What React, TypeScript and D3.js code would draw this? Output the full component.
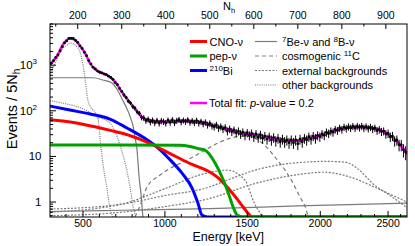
import * as d3 from "d3";

// axis ticks
const nhMajor = [200, 300, 400, 500, 600, 700, 800, 900];
const energyMajor = [500, 1000, 1500, 2000, 2500];
const yDecades = [1, 10, 100, 1000];
const yDecadeSup = ["", "", "2", "3"];

// energy <-> Nh calibration
const calEnergy = [300, 500, 1000, 1500, 2000, 2500, 2700];
const calNh = [135, 212, 398, 585, 751, 905, 962];

// data, events per 5 Nh bin
const binNh = d3.range(140, 950, 5);
const counts = [
  1100, 1250, 1480, 1690, 2080, 2550, 3100, 3400, 3850, 3880,
  3850, 3480, 3150, 2650, 2330, 1920, 1620, 1260, 1070, 900,
  825, 745, 700, 680, 640, 620, 575, 540, 490, 420,
  375, 310, 265, 222, 196, 162, 148, 124, 114, 95,
  88, 72, 70, 61, 65, 57, 62, 55, 61, 54,
  60, 58, 54, 62, 56, 63, 55, 61, 64, 57,
  62, 58, 63, 56, 60, 55, 61, 54, 58, 52,
  56, 49, 53, 47, 45, 49, 42, 45, 40, 43,
  36, 40, 35, 38, 33, 36, 31, 34, 29, 33,
  29, 32, 27, 31, 26, 30, 25, 28, 24, 27,
  23, 26, 22, 25, 21, 24, 21, 23, 20, 23,
  20, 23, 19, 24, 21, 25, 23, 27, 24, 28,
  25, 29, 27, 31, 29, 34, 32, 36, 34, 39,
  37, 42, 39, 44, 41, 45, 42, 46, 42, 46,
  43, 46, 42, 45, 41, 44, 40, 42, 37, 39,
  35, 36, 31, 32, 27, 28, 22, 23, 18, 18,
  14, 12.5,
];

// total fit
const fitNh = [137, 152, 167, 182, 194, 205, 217, 228, 239, 251, 266, 277, 289, 300, 311, 323, 334, 345, 357, 372, 387, 410, 440, 470, 490, 510, 528, 564, 603, 642, 678, 701, 717, 739, 769, 807, 846, 869, 892, 914, 937, 948];
const fitVal = [1050, 1535, 2870, 3890, 3570, 2680, 1820, 1100, 826, 699, 610, 516, 381, 262, 188, 134, 99, 74, 63, 59, 57, 58, 60, 58, 53, 47, 42, 34, 29.5, 25, 22, 22, 24, 26.6, 32.5, 42, 44, 42, 36, 26.6, 16, 11];

// components
const cnoNh = [137, 194, 251, 307, 341, 371, 410, 455, 501, 519, 542, 564, 585, 596, 610, 948];
const cnoVal = [64, 55, 42, 31, 24, 17.8, 11.5, 7, 4.5, 3.4, 2.0, 1.1, 0.6, 0.4, 0.1, 0.1];
const pepNh = [137, 300, 432, 455, 478, 489, 512, 528, 542, 553, 562, 575, 948];
const pepVal = [17.8, 17.8, 17.5, 16.5, 14.5, 13.8, 7.2, 3.5, 1.58, 0.78, 0.52, 0.1, 0.1];
const biNh = [137, 182, 228, 273, 312, 348, 380, 410, 437, 460, 473, 482, 495, 948];
const biVal = [127, 104, 85, 66, 42, 26.6, 16, 8.4, 4.3, 2.0, 0.95, 0.52, 0.1, 0.1];
const be7Nh = [137, 235, 257, 278, 289, 301, 312, 319, 326, 330, 335, 339, 344, 348];
const be7Val = [530, 530, 473, 408, 300, 180, 110, 75, 45, 27, 13, 3.9, 1.4, 0.3];
const b8Nh = [137, 300, 500, 700, 948];
const b8Val = [0.62, 0.66, 0.72, 0.82, 0.95];
const c11Nh = [330, 341, 357, 387, 416, 448, 478, 501, 535, 580, 619, 648, 671, 689, 705, 717, 723, 730];
const c11Val = [0.3, 0.8, 2.1, 3.9, 5.9, 8.3, 11.9, 16, 23, 28, 19.7, 9.7, 5.0, 2.6, 1.29, 0.78, 0.52, 0.3];
const extBiNh = [137, 300, 400, 489, 550, 603, 660, 717, 760, 807, 840, 869, 914, 948];
const extBiVal = [0.7, 0.9, 1.4, 2.0, 3.3, 5.0, 6.6, 7.5, 7.8, 7.5, 5, 2.6, 1.3, 0.75];
const extTlNh = [137, 300, 400, 500, 600, 700, 760, 820, 880, 948];
const extTlVal = [0.5, 0.6, 0.8, 1.2, 2.5, 4, 4.5, 3.5, 2, 1.0];
const extKNh = [137, 300, 400, 480, 540, 580, 600, 620];
const extKVal = [0.6, 0.9, 2, 4, 5, 3, 1, 0.3];
const poNh = [137, 152, 167, 176, 182, 194, 205, 212, 217, 223, 228, 239, 246, 251, 257, 266, 273, 280];
const poVal = [600, 1300, 2400, 2760, 3070, 2760, 1960, 1000, 470, 173, 127, 94, 70, 23, 7.2, 2.1, 0.78, 0.2];
const krNh = [137, 162, 212, 244, 273, 285, 296, 308, 319, 326, 332];
const krVal = [166, 150, 110, 75, 54, 35, 17.8, 7, 2.1, 0.78, 0.3];

const FONT = "'Liberation Sans', Arial, Helvetica, sans-serif";
const GRAY = "#7a7a7a";

export default function App() {
  const width = 415;
  const height = 246;
  const left = 50, right = 407, top = 24, bottom = 217;

  const x = d3.scaleLinear([137, 948], [left, right]);
  const y = d3.scaleLog([0.47, 8000], [bottom, top]).clamp(true);
  const e2nh = d3.scaleLinear(calEnergy, calNh);

  const pairs = (a: number[], b: number[]) => a.map((v, i) => [v, b[i]] as [number, number]);
  const line = d3.line<[number, number]>()
    .x(d => x(d[0]))
    .y(d => y(d[1]))
    .curve(d3.curveMonotoneX);

  const nhMinor = d3.range(150, 948, 50).filter(v => !nhMajor.includes(v));
  const eMinor = d3.range(400, 2700, 100)
    .filter(e => !energyMajor.includes(e))
    .filter(e => e2nh(e) > 137 && e2nh(e) < 948);
  const yMinor: number[] = [];
  [0.1, 1, 10, 100, 1000].forEach(d => {
    for (let k = 2; k <= 9; k++) {
      const v = d * k;
      if (v >= 0.47 && v <= 8000) yMinor.push(v);
    }
  });

  const grayCurves = [
    { nh: b8Nh, v: b8Val, dash: "" },
    { nh: be7Nh, v: be7Val, dash: "" },
    { nh: c11Nh, v: c11Val, dash: "4,3" },
    { nh: extBiNh, v: extBiVal, dash: "2,1.5" },
    { nh: extTlNh, v: extTlVal, dash: "2,1.5" },
    { nh: extKNh, v: extKVal, dash: "2,1.5" },
    { nh: poNh, v: poVal, dash: "1,1.2" },
    { nh: krNh, v: krVal, dash: "1,1.2" },
  ];
  const colorCurves = [
    { nh: biNh, v: biVal, color: "#0000ff" },
    { nh: cnoNh, v: cnoVal, color: "#ff0000" },
    { nh: pepNh, v: pepVal, color: "#00a000" },
  ];

  const legendLeft = [
    { color: "#ff0000", yy: 41.5, label: <tspan>CNO-ν</tspan> },
    { color: "#00a000", yy: 56, label: <tspan>pep-ν</tspan> },
    { color: "#0000ff", yy: 70.5, label: <><tspan fontSize={8} dy={-4}>210</tspan><tspan dy={4}>Bi</tspan></> },
  ];
  const legendRight = [
    { dash: "", yy: 41.5, label: <><tspan fontSize={8} dy={-4}>7</tspan><tspan dy={4}>Be-ν and </tspan><tspan fontSize={8} dy={-4}>8</tspan><tspan dy={4}>B-ν</tspan></> },
    { dash: "4,3", yy: 56, label: <><tspan>cosmogenic </tspan><tspan fontSize={8} dy={-4}>11</tspan><tspan dy={4}>C</tspan></> },
    { dash: "2,1.5", yy: 70.5, label: <tspan>external backgrounds</tspan> },
    { dash: "1,1.2", yy: 85, label: <tspan>other backgrounds</tspan> },
  ];

  return (
    <svg width={width} height={height} style={{ position: "absolute", left: 0, top: 0, background: "white" }} fontFamily={FONT}>
      <defs>
        <clipPath id="plotArea">
          <rect x={left} y={top} width={right - left} height={bottom - top} />
        </clipPath>
      </defs>

      <g clipPath="url(#plotArea)" fill="none">
        {grayCurves.map((c, i) => (
          <path key={i} d={line(pairs(c.nh, c.v)) as string} stroke={GRAY} strokeWidth={1.2} strokeDasharray={c.dash} />
        ))}
        {colorCurves.map((c, i) => (
          <path key={i} d={line(pairs(c.nh, c.v)) as string} stroke={c.color} strokeWidth={3} />
        ))}
        <path d={line(pairs(fitNh, fitVal)) as string} stroke="#ff00ff" strokeWidth={2.5} />
        <g stroke="black" strokeWidth={1}>
          {counts.map((c, i) => {
            const err = Math.sqrt(c) * 1.2;
            return <line key={i} x1={x(binNh[i])} x2={x(binNh[i])} y1={y(c + err)} y2={y(Math.max(c - err, 0.5))} />;
          })}
        </g>
        <g fill="black">
          {counts.map((c, i) => <circle key={i} cx={x(binNh[i])} cy={y(c)} r={1.4} />)}
        </g>
      </g>

      {/* frame */}
      <rect x={left} y={top} width={right - left} height={bottom - top} fill="none" stroke="black" strokeWidth={1} />

      {/* top Nh axis */}
      <g stroke="black" strokeWidth={1}>
        {nhMajor.map(v => <line key={v} x1={x(v)} x2={x(v)} y1={top} y2={top + 5} />)}
        {nhMinor.map(v => <line key={v} x1={x(v)} x2={x(v)} y1={top} y2={top + 2.5} />)}
      </g>
      <g fontSize={10.5} textAnchor="middle">
        {nhMajor.map(v => <text key={v} x={x(v)} y={19}>{v}</text>)}
      </g>
      <text x={223} y={10} fontSize={11}>N<tspan fontSize={7.5} dy={3}>h</tspan></text>

      {/* bottom energy axis */}
      <g stroke="black" strokeWidth={1}>
        {energyMajor.map(e => <line key={e} x1={x(e2nh(e))} x2={x(e2nh(e))} y1={bottom} y2={bottom - 6} />)}
        {eMinor.map(e => <line key={e} x1={x(e2nh(e))} x2={x(e2nh(e))} y1={bottom} y2={bottom - 3} />)}
      </g>
      <g fontSize={10.5} textAnchor="middle">
        {energyMajor.map(e => <text key={e} x={x(e2nh(e))} y={227}>{e}</text>)}
      </g>
      <text x={264} y={241} fontSize={12.5} textAnchor="end">Energy [keV]</text>

      {/* y axis */}
      <g stroke="black" strokeWidth={1}>
        {yDecades.map(v => <line key={v} x1={left} x2={left + 6} y1={y(v)} y2={y(v)} />)}
        {yMinor.map(v => <line key={v} x1={left} x2={left + 3} y1={y(v)} y2={y(v)} />)}
      </g>
      <g fontSize={11.5} textAnchor="end">
        {yDecades.map((v, i) => (
          <text key={v} x={yDecadeSup[i] ? 37 : 41.5} y={y(v) + 4}>
            {v === 1 ? "1" : "10"}
            {yDecadeSup[i] && <tspan fontSize={8} dy={-5}>{yDecadeSup[i]}</tspan>}
          </text>
        ))}
      </g>
      <text transform="translate(17,109) rotate(-90)" fontSize={14.5} textAnchor="middle">
        Events / 5N<tspan fontSize={10} dy={3}>h</tspan>
      </text>

      {/* legend */}
      {legendLeft.map((l, i) => (
        <g key={i}>
          <line x1={190} x2={207} y1={l.yy} y2={l.yy} stroke={l.color} strokeWidth={3} />
          <text x={209.5} y={l.yy + 4} fontSize={11}>{l.label}</text>
        </g>
      ))}
      <line x1={190} x2={207} y1={103} y2={103} stroke="#ff00ff" strokeWidth={2.5} />
      <text x={209} y={107} fontSize={11}>Total fit: <tspan fontStyle="italic">p</tspan>-value = 0.2</text>
      {legendRight.map((l, i) => (
        <g key={i}>
          <line x1={255} x2={277} y1={l.yy} y2={l.yy} stroke={GRAY} strokeWidth={1.2} strokeDasharray={l.dash} />
          <text x={282} y={l.yy + 4} fontSize={11}>{l.label}</text>
        </g>
      ))}
    </svg>
  );
}
